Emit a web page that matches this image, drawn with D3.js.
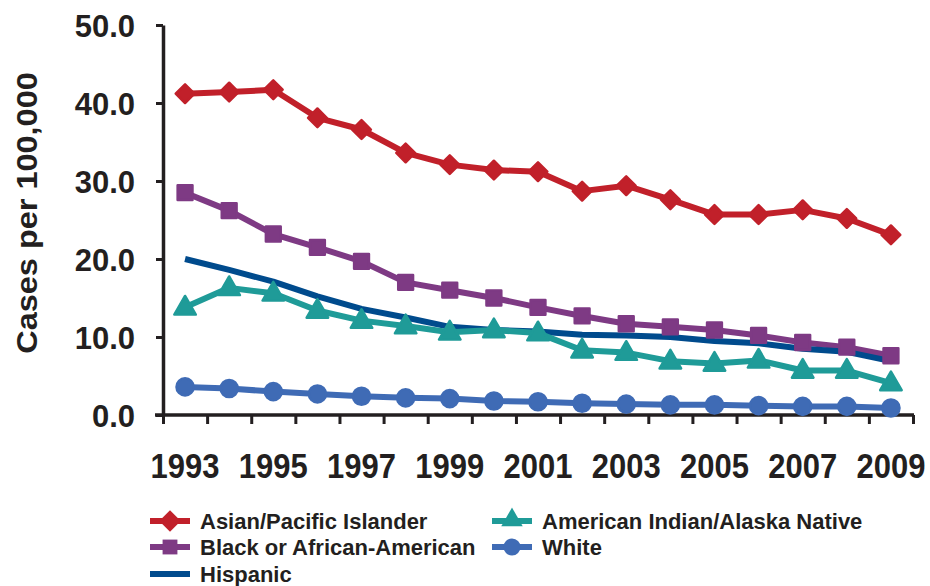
<!DOCTYPE html>
<html><head><meta charset="utf-8">
<script src="https://cdn.jsdelivr.net/npm/d3@7"></script>
<style>
body{margin:0;background:#fff;}
text{font-family:"Liberation Sans",Arial,sans-serif;font-weight:bold;fill:#231F20;}
</style></head>
<body><svg id="c" width="930" height="586"></svg>
<script>
const years = [1993,1994,1995,1996,1997,1998,1999,2000,2001,2002,2003,2004,2005,2006,2007,2008,2009];
const yTicks = [0,10,20,30,40,50];
const xLabelYears = [1993,1995,1997,1999,2001,2003,2005,2007,2009];
const asianPI = [41.2,41.4,41.7,38.1,36.6,33.6,32.1,31.4,31.2,28.7,29.4,27.6,25.7,25.7,26.3,25.2,23.1];
const black   = [28.5,26.2,23.2,21.5,19.7,17.0,16.0,15.0,13.8,12.7,11.7,11.3,10.9,10.2,9.3,8.7,7.6];
const hispanic= [20.0,18.6,17.1,15.2,13.6,12.5,11.3,10.9,10.7,10.3,10.2,10.0,9.5,9.2,8.5,8.1,6.9];
const aian    = [13.8,16.3,15.6,13.4,12.1,11.4,10.6,10.9,10.5,8.3,8.0,6.9,6.6,7.0,5.7,5.7,4.1];
const white   = [3.6,3.4,3.0,2.7,2.4,2.2,2.1,1.8,1.7,1.5,1.4,1.3,1.3,1.2,1.1,1.1,0.9];
const seriesNames = ["Asian/Pacific Islander","Black or African-American","Hispanic","American Indian/Alaska Native","White"];
const seriesColors = ["#C1202A","#7E3A84","#004B8D","#1F9B98","#3F6BB5"];
const seriesSymbols = ["diamond","square",null,"triangle","circle"];
const seriesData = [asianPI, black, hispanic, aian, white];

const svg = d3.select("#c");
const L=163, R=913, T=25, B=415;
const x = d3.scaleBand().domain(years).range([L,R]);
const xi = d3.scaleLinear().domain([0,years.length]).range([L,R]);
const y = d3.scaleLinear().domain([0,50]).range([B,T]);
const cx = d => x(d)+x.bandwidth()/2;

// y axis
const ya = svg.append("g").attr("transform",`translate(${L},0)`)
  .call(d3.axisLeft(y).tickValues(yTicks).tickFormat(d3.format(".1f")).tickSize(7).tickSizeOuter(0).tickPadding(21));
ya.select(".domain").attr("stroke","#231F20").attr("stroke-width",3.5);
ya.selectAll(".tick line").attr("stroke","#231F20").attr("stroke-width",3);
ya.selectAll(".tick text").attr("fill","#231F20").style("font-size","31px").attr("dy","0.36em");

// x axis ticks at boundaries
const xa = svg.append("g").attr("transform",`translate(0,${B})`)
  .call(d3.axisBottom(xi).tickValues(d3.range(0,years.length+1)).tickFormat("").tickSize(9).tickSizeOuter(0));
xa.select(".domain").attr("stroke","#231F20").attr("stroke-width",3.5).attr("d",`M${L-8},0H${R+1}`);
xa.selectAll(".tick line").attr("stroke","#231F20").attr("stroke-width",3);
// x labels
const xl = svg.append("g").attr("transform",`translate(0,${B})`)
  .call(d3.axisBottom(x).tickValues(xLabelYears).tickSize(0).tickPadding(0));
xl.select(".domain").remove();
xl.selectAll(".tick text").style("font-size","31px").attr("y",0).attr("dy",0)
  .attr("transform","translate(0,63) scale(1,1.15)");

// y title
svg.append("text").attr("transform","translate(37,213) rotate(-90) scale(1.12,1)")
  .attr("text-anchor","middle").style("font-size","29px").text("Cases per 100,000");

// lines
const line = d3.line().x((d,i)=>cx(years[i])).y(d=>y(d));
const symMap = {diamond:d3.symbolSquare, square:d3.symbolSquare, triangle:d3.symbolTriangle, circle:d3.symbolCircle};
const symSize = {diamond:175, square:220, triangle:200, circle:230};
const symRot = {diamond:45, square:0, triangle:0, circle:0};
seriesData.forEach((vals,k)=>{
  svg.append("path").datum(vals).attr("d",line).attr("fill","none")
    .attr("stroke",seriesColors[k]).attr("stroke-width",6).attr("stroke-linejoin","round");
});
seriesData.forEach((vals,k)=>{
  const s = seriesSymbols[k]; if(!s) return;
  svg.append("g").selectAll("path").data(vals).join("path")
    .attr("d",d3.symbol(symMap[s],symSize[s]))
    .attr("transform",(d,i)=>`translate(${cx(years[i])},${y(d)+(s==="triangle"?1:0)}) rotate(${symRot[s]})`)
    .attr("fill",seriesColors[k]).attr("stroke",seriesColors[k]).attr("stroke-width",2.5).attr("stroke-linejoin","round");
});

// legend
const legPos = [[150,521],[150,547],[150,574],[492,521],[492,547]];
const lg = svg.append("g");
seriesNames.forEach((n,k)=>{
  const [lx,ly]=legPos[k];
  lg.append("line").attr("x1",lx).attr("x2",lx+40).attr("y1",ly).attr("y2",ly)
    .attr("stroke",seriesColors[k]).attr("stroke-width",6);
  const s=seriesSymbols[k];
  if(s){
    lg.append("path").attr("d",d3.symbol(symMap[s],s==="diamond"?230:symSize[s])())
      .attr("transform",`translate(${lx+20},${ly+(s==="triangle"?-1:0)}) rotate(${symRot[s]})`).attr("fill",seriesColors[k]);
  }
  lg.append("text").attr("x",lx+50).attr("y",ly).attr("dy","0.36em").style("font-size","22px").text(n);
});
</script></body></html>
